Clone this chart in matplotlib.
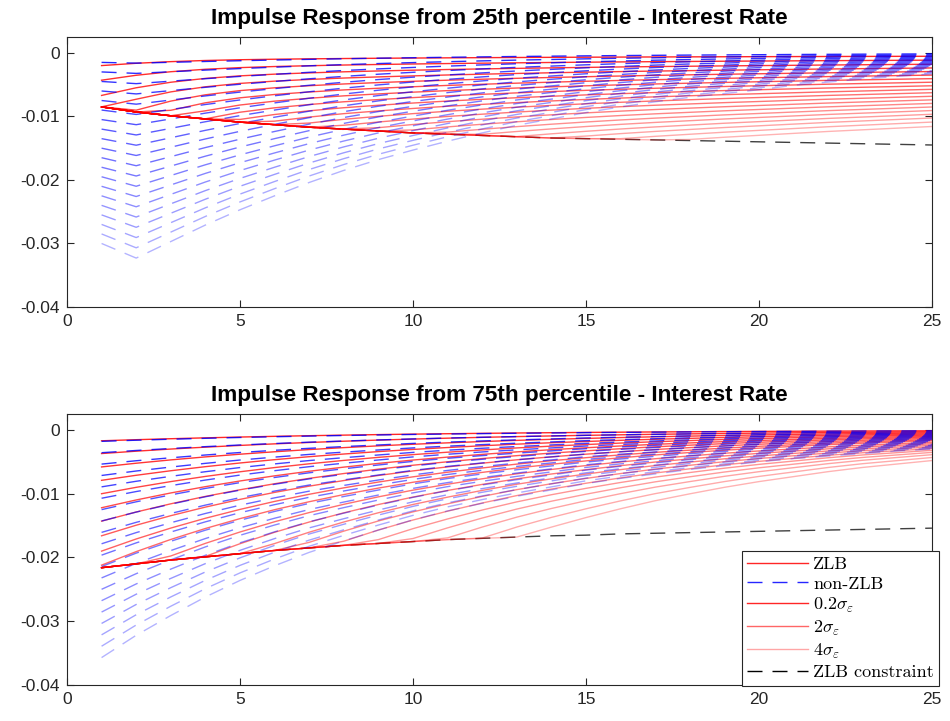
import numpy as np
import matplotlib
matplotlib.use("Agg")
import matplotlib.pyplot as plt
from matplotlib.lines import Line2D

plt.rcParams['mathtext.fontset'] = 'cm'
plt.rcParams['font.family'] = ['Liberation Sans', 'DejaVu Sans']

# ---------------- data ----------------
periods = [1, 2, 3, 4, 5, 6, 7, 8, 9, 10, 11, 12, 13, 14, 15, 16, 17, 18, 19, 20, 21, 22, 23, 24, 25]
shock_sizes = [0.2, 0.4, 0.6, 0.8, 1.0, 1.2, 1.4, 1.6, 1.8, 2.0,
               2.2, 2.4, 2.6, 2.8, 3.0, 3.2, 3.4, 3.6, 3.8, 4.0]

# 25th percentile panel
top_nonzlb_4sd = [-0.0300, -0.0323, -0.0297, -0.0271, -0.0247, -0.0225, -0.0204, -0.0185, -0.0168, -0.0153,
                  -0.0139, -0.0126, -0.0114, -0.0104, -0.0094, -0.0085, -0.0077, -0.0070, -0.0064, -0.0058,
                  -0.0051, -0.0046, -0.0041, -0.0037, -0.0033]
top_constraint = [-0.0085, -0.0093, -0.0099, -0.0104, -0.0109, -0.0113, -0.0117, -0.0120, -0.0123, -0.0126,
                  -0.0128, -0.0130, -0.0132, -0.0134, -0.0135, -0.0136, -0.0137, -0.0138, -0.0139, -0.0140,
                  -0.0141, -0.0142, -0.0143, -0.0144, -0.0145]
top_zlb_profile = [1.000, 0.820, 0.690, 0.600, 0.540, 0.500, 0.470, 0.445, 0.425, 0.407,
                   0.391, 0.377, 0.364, 0.352, 0.341, 0.331, 0.322, 0.314, 0.306, 0.299,
                   0.292, 0.285, 0.279, 0.273, 0.267]
top_zlb_impact = [-0.0020, -0.0043, -0.0067, -0.0089, -0.0110, -0.0131, -0.0152, -0.0173, -0.0194, -0.0215,
                  -0.0235, -0.0256, -0.0277, -0.0298, -0.0319, -0.0340, -0.0362, -0.0384, -0.0408, -0.0434]

# 75th percentile panel
bot_nonzlb_4sd = [-0.0357, -0.0322, -0.0291, -0.0262, -0.0236, -0.0213, -0.0192, -0.0174, -0.0157, -0.0141,
                  -0.0127, -0.0115, -0.0104, -0.0094, -0.0084, -0.0076, -0.0069, -0.0062, -0.0056, -0.0050,
                  -0.0045, -0.0041, -0.0037, -0.0033, -0.0030]
bot_constraint = [-0.0216, -0.0210, -0.0204, -0.0199, -0.0194, -0.0189, -0.0185, -0.0181, -0.0178, -0.0175,
                  -0.0172, -0.0170, -0.0168, -0.0166, -0.0165, -0.0163, -0.0162, -0.0161, -0.0160, -0.0159,
                  -0.0158, -0.0157, -0.0156, -0.0155, -0.0154]
bot_zlb_profile = [1.000, 0.900, 0.810, 0.729, 0.656, 0.590, 0.531, 0.478, 0.430, 0.387,
                   0.349, 0.314, 0.282, 0.254, 0.229, 0.206, 0.185, 0.167, 0.150, 0.135,
                   0.122, 0.109, 0.098, 0.089, 0.080]
bot_zlb_impact = [-0.0017, -0.0037, -0.0058, -0.0079, -0.0100, -0.0122, -0.0143, -0.0166, -0.0190, -0.0212,
                  -0.0244, -0.0272, -0.0302, -0.0332, -0.0365, -0.0400, -0.0440, -0.0485, -0.0540, -0.0600]

titles = ["Impulse Response from 25th percentile - Interest Rate",
          "Impulse Response from 75th percentile - Interest Rate"]
x_ticks = [0, 5, 10, 15, 20, 25]
y_ticks = [-0.04, -0.03, -0.02, -0.01, 0]
y_tick_labels = ["-0.04", "-0.03", "-0.02", "-0.01", "0"]

legend_labels = ["ZLB", "non-ZLB", r"$0.2\sigma_\varepsilon$", r"$2\sigma_\varepsilon$",
                 r"$4\sigma_\varepsilon$", "ZLB constraint"]

# ---------------- plotting ----------------
DASH = (0, (10.8, 7.2))
AXC = '#262626'

fig = plt.figure(figsize=(9.5, 7.21), dpi=100)
ax1 = fig.add_axes([0.0705, 0.5742, 0.9105, 0.3745])
ax2 = fig.add_axes([0.0705, 0.0499, 0.9105, 0.3759])


def draw(ax, nonzlb_4sd, constraint, profile, impact, title):
    x = np.array(periods, dtype=float)
    cons = np.array(constraint)
    prof = np.array(profile)
    base = np.array(nonzlb_4sd)
    ax.plot(x, cons, color='k', alpha=0.75, lw=1.0, ls=DASH, zorder=1)
    n = len(shock_sizes)
    for i, s in enumerate(shock_sizes):
        a = 0.85 - 0.55 * i / (n - 1)
        zlb = np.maximum(cons, impact[i] * prof)
        ax.plot(x, zlb, color=(1, 0, 0, a), lw=1.0, zorder=2)
        nz = s / shock_sizes[-1] * base
        ax.plot(x, nz, color=(0, 0, 1, a), lw=1.0, ls=DASH, zorder=2)
    ax.set_xlim(0, 25)
    ax.set_ylim(-0.04, 0.0025)
    ax.set_xticks(x_ticks)
    ax.set_xticklabels([str(v) for v in x_ticks])
    ax.set_yticks(y_ticks)
    ax.set_yticklabels(y_tick_labels)
    ax.tick_params(direction='in', top=True, right=True, length=5, width=0.8,
                   color=AXC, labelcolor=AXC, labelsize=12.5, pad=5)
    for sp in ax.spines.values():
        sp.set_color(AXC)
        sp.set_linewidth(0.8)
    ax.set_title(title, fontsize=16.2, fontweight='bold', color='k', pad=9)


draw(ax1, top_nonzlb_4sd, top_constraint, top_zlb_profile, top_zlb_impact, titles[0])
draw(ax2, bot_nonzlb_4sd, bot_constraint, bot_zlb_profile, bot_zlb_impact, titles[1])

handles = [Line2D([], [], color=(1, 0, 0, 0.85), lw=1.0),
           Line2D([], [], color=(0, 0, 1, 0.85), lw=1.0, ls=DASH),
           Line2D([], [], color=(1, 0, 0, 0.85), lw=1.0),
           Line2D([], [], color=(1, 0, 0, 0.6), lw=1.0),
           Line2D([], [], color=(1, 0, 0, 0.35), lw=1.0),
           Line2D([], [], color='k', lw=1.0, ls=DASH)]
leg = ax2.legend(handles, legend_labels, loc='upper left', bbox_to_anchor=(0.780, 0.4945),
                 borderaxespad=0, frameon=True, fancybox=False, edgecolor=AXC, framealpha=1,
                 handlelength=3.4, labelspacing=0.22, borderpad=0.3, handletextpad=0.25,
                 prop={'family': 'cmr10', 'size': 13})
leg.get_frame().set_linewidth(0.8)
leg.set_zorder(10)

fig.savefig("out.png", dpi=100)
